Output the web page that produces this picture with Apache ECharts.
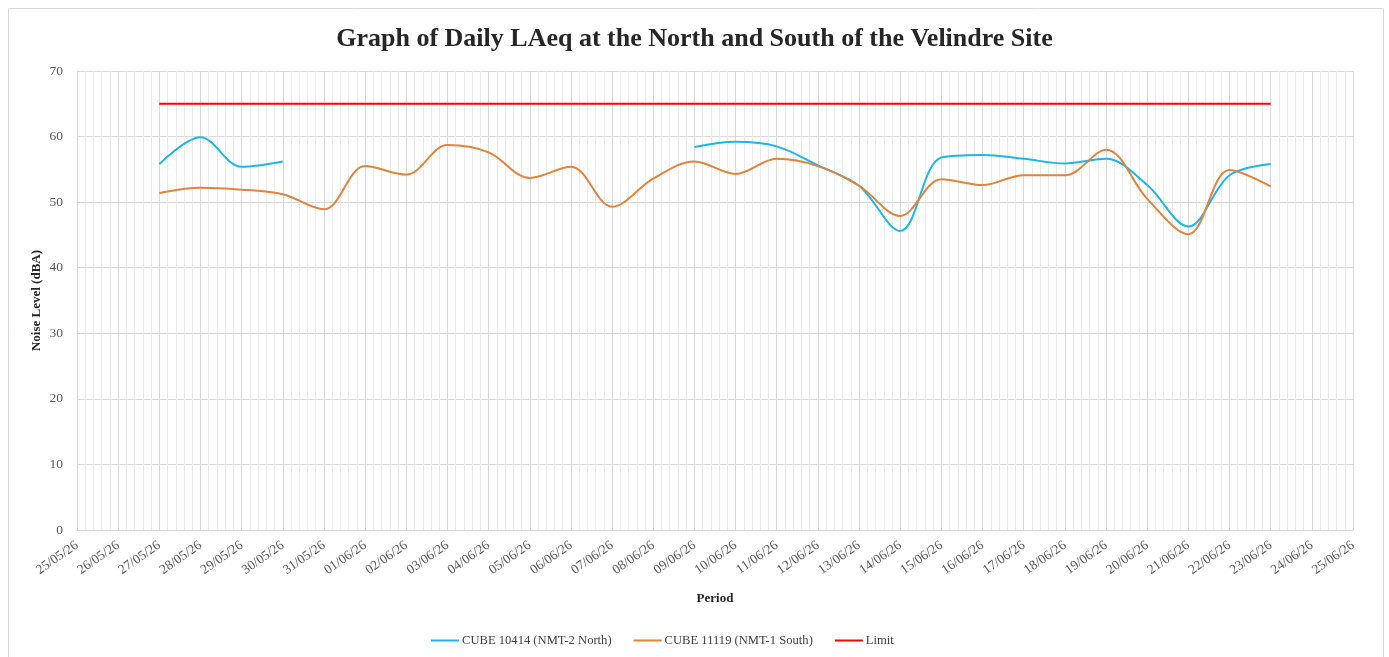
<!DOCTYPE html>
<html><head><meta charset="utf-8">
<script src="https://cdn.jsdelivr.net/npm/echarts@6/dist/echarts.min.js"></script>
<style>html,body{margin:0;padding:0;background:#fff}#c{width:1389px;height:657px}</style>
</head><body><div id="c"></div>
<script>
const dateLabels = ["25/05/26","26/05/26","27/05/26","28/05/26","29/05/26","30/05/26","31/05/26","01/06/26","02/06/26","03/06/26","04/06/26","05/06/26","06/06/26","07/06/26","08/06/26","09/06/26","10/06/26","11/06/26","12/06/26","13/06/26","14/06/26","15/06/26","16/06/26","17/06/26","18/06/26","19/06/26","20/06/26","21/06/26","22/06/26","23/06/26","24/06/26","25/06/26"];
// values per date (null = no data)
const north = [null,null,55.8,59.9,55.4,56.2,null,null,null,null,null,null,null,null,null,58.4,59.2,58.5,55.6,52.5,45.6,56.8,57.2,56.6,55.9,56.6,52.6,46.3,54.1,55.8,null,null];
const south = [null,null,51.4,52.2,51.9,51.2,48.9,55.5,54.2,58.7,57.6,53.7,55.4,49.3,53.6,56.2,54.3,56.6,55.5,52.5,47.9,53.5,52.6,54.1,54.1,58.0,50.5,45.1,54.9,52.4,null,null];
const limit = [null,null,65,65,65,65,65,65,65,65,65,65,65,65,65,65,65,65,65,65,65,65,65,65,65,65,65,65,65,65,null,null];
const seriesNames = ["CUBE 10414 (NMT-2 North)","CUBE 11119 (NMT-1 South)","Limit"];

const toPairs = arr => arr.map((v,i)=>[i, v==null ? '-' : v]);
const serif = "'Liberation Serif', 'DejaVu Serif', serif";
const chart = echarts.init(document.getElementById('c'));
chart.setOption({
  animation:false,
  title:{text:"Graph of Daily LAeq at the North and South of the Velindre Site",left:'center',top:21,
    textStyle:{fontFamily:serif,fontWeight:'bold',fontSize:26,color:'#262626'}},
  graphic:[{type:'rect',shape:{x:8.5,y:8.5,width:1375,height:660},style:{fill:'none',stroke:'#d9d9d9',lineWidth:1},silent:true}],
  grid:{left:77,right:36,top:71,bottom:127},
  legend:{bottom:5,left:426,itemWidth:28,itemHeight:2,itemGap:22,icon:'rect',
    textStyle:{fontFamily:serif,fontSize:12.6,color:'#404040',padding:[0,0,0,-2]},data:seriesNames},
  xAxis:{type:'value',min:0,max:dateLabels.length-1,interval:1,
    name:'Period',nameLocation:'middle',nameGap:62,nameMoveOverlap:false,
    nameTextStyle:{fontFamily:serif,fontWeight:'bold',fontSize:13,color:'#262626'},
    axisLine:{show:true,lineStyle:{color:'#d9d9d9'}},axisTick:{show:false},
    axisLabel:{rotate:35,fontFamily:serif,fontSize:13.5,color:'#595959',margin:14,
      formatter:v=>dateLabels[v]||''},
    splitLine:{show:true,lineStyle:{color:'#d9d9d9',width:1}},
    minorTick:{show:false,splitNumber:5},
    minorSplitLine:{show:true,lineStyle:{color:'#ececec',width:1}}},
  yAxis:{type:'value',min:0,max:70,interval:10,
    name:'Noise Level (dBA)',nameLocation:'middle',nameGap:34,nameMoveOverlap:false,
    nameTextStyle:{fontFamily:serif,fontWeight:'bold',fontSize:13,color:'#262626'},
    axisLine:{show:true,lineStyle:{color:'#d9d9d9'}},axisTick:{show:false},
    axisLabel:{fontFamily:serif,fontSize:13.5,color:'#595959',margin:14},
    splitLine:{lineStyle:{color:'#d9d9d9'}}},
  series:[
    {name:seriesNames[0],type:'line',data:toPairs(north),smooth:0.35,showSymbol:false,
      lineStyle:{color:'#1cb6ea',width:2},itemStyle:{color:'#1cb6ea'}},
    {name:seriesNames[1],type:'line',data:toPairs(south),smooth:0.35,showSymbol:false,
      lineStyle:{color:'#e2823c',width:2},itemStyle:{color:'#e2823c'}},
    {name:seriesNames[2],type:'line',data:toPairs(limit),showSymbol:false,
      lineStyle:{color:'#ff0000',width:2},itemStyle:{color:'#ff0000'}}
  ]
});
</script></body></html>
